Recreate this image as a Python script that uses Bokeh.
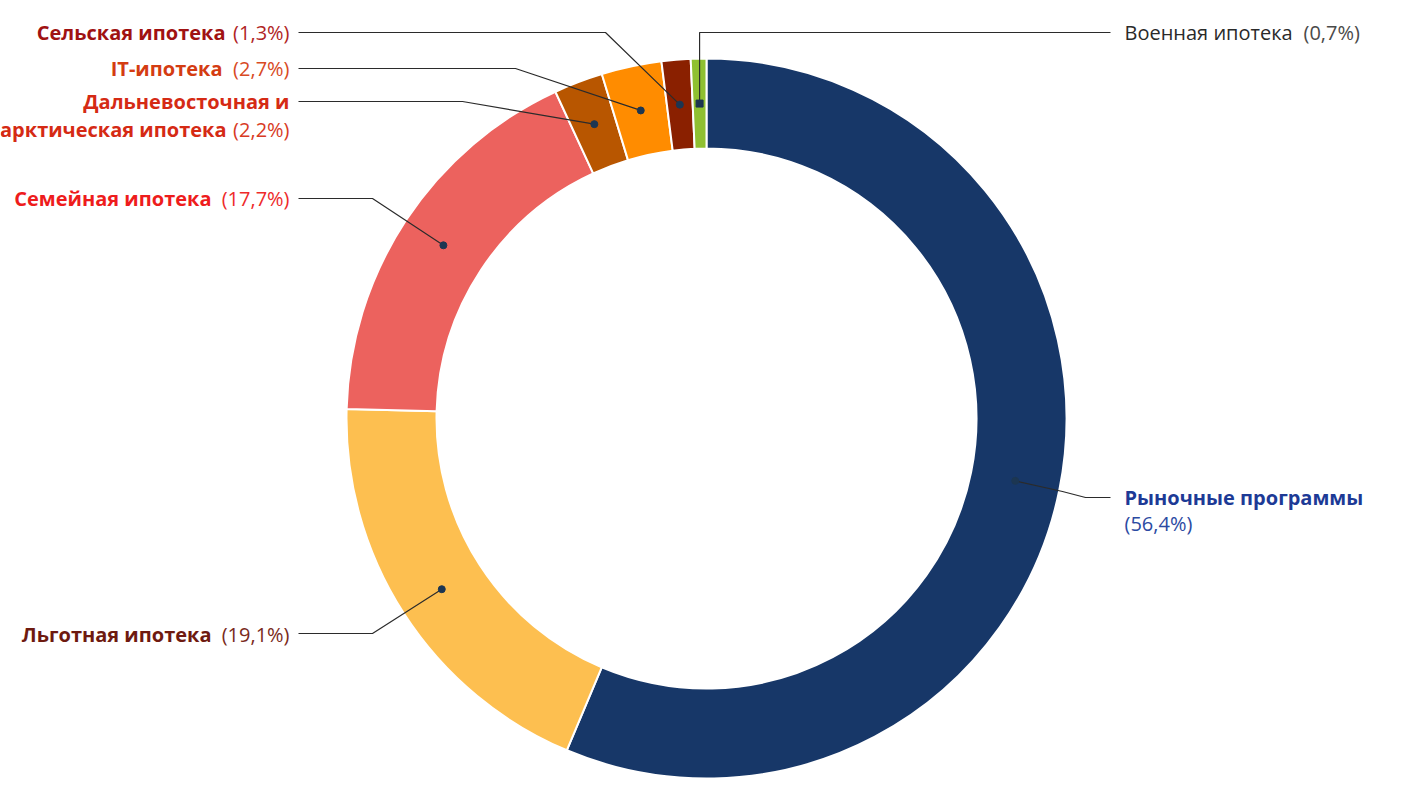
import math
from bokeh.plotting import figure
from bokeh.models import Range1d, ColumnDataSource
from bokeh.core.properties import value
from bokeh.embed import file_html
from bokeh.resources import INLINE

# ---- data (clockwise from 12 o'clock) ----
categories = ["Рыночные программы", "Льготная ипотека", "Семейная ипотека",
              "Дальневосточная и арктическая ипотека", "IT-ипотека",
              "Сельская ипотека", "Военная ипотека"]
shares = [56.4, 19.1, 17.7, 2.2, 2.7, 1.3, 0.7]
slice_colors = ["#173768", "#fdbf50", "#ec625e", "#b85600", "#ff8c00", "#8a2000", "#8fc031"]
name_colors = ["#1d3a96", "#6e1a10", "#ee1c1c", "#d52a14", "#d43c12", "#a01212", "#2a2a2a"]
pct_colors = ["#2b4aa2", "#7a2a20", "#ee2a2a", "#d83a24", "#d84a24", "#b02424", "#4a4a4a"]

W, H = 1402, 804
CX, CY = 706, 418          # screen coords of centre
R_OUT, R_IN, R_DOT = 360, 270, 315

def sy(y):
    return H - y

p = figure(width=W, height=H, output_backend="svg", toolbar_location=None,
           x_range=Range1d(0, W), y_range=Range1d(0, H), min_border=0)
p.axis.visible = False
p.grid.visible = False
p.outline_line_color = None
p.background_fill_color = "white"

total = sum(shares)
starts, ends, mids = [], [], []
cum = 0.0
for v in shares:
    t0 = cum / total * 2 * math.pi
    cum += v
    t1 = cum / total * 2 * math.pi
    starts.append(math.pi / 2 - t1)
    ends.append(math.pi / 2 - t0)
    mids.append((t0 + t1) / 2)

src = ColumnDataSource(dict(start=starts, end=ends, color=slice_colors))
p.annular_wedge(x=CX, y=sy(CY), inner_radius=R_IN, outer_radius=R_OUT,
                start_angle="start", end_angle="end", direction="anticlock",
                fill_color="color", line_color="white", line_width=2, source=src)

dot_x = [CX + R_DOT * math.sin(t) for t in mids]
dot_y = [sy(CY - R_DOT * math.cos(t)) for t in mids]

# leader-line layout (screen coords), per category
leaders = [
    [(1110, 497), (1085, 497), (1062, 491)],
    [(298, 633), (372, 633)],
    [(298, 198), (372, 198)],
    [(298, 101), (462, 101)],
    [(298, 68), (515, 68)],
    [(298, 32), (605, 32)],
    [(1110, 32), (None, 32)],
]
xs, ys = [], []
for i, pts in enumerate(leaders):
    lx = [dot_x[i] if x is None else x for x, _ in pts] + [dot_x[i]]
    ly = [sy(y) for _, y in pts] + [dot_y[i]]
    xs.append(lx)
    ys.append(ly)
p.multi_line(xs=xs, ys=ys, line_color="#2b2b2b", line_width=1.2)

p.scatter(x=dot_x[:6], y=dot_y[:6], size=7, color="#1c3652")
p.scatter(x=[dot_x[6]], y=[dot_y[6]], size=7, marker="square", color="#1c3652")

FONT = value("Open Sans")
FS = "20px"

def pct(v):
    return ("(%.1f%%)" % v).replace(".", ",")

# left labels: percent right-aligned at x=289, names right-aligned before it
left = {1: (634, 211), 2: (198, 211), 4: (68, 222), 5: (32, 225)}
for i, (y, nx) in left.items():
    p.text(x=[289], y=[sy(y)], text=[pct(shares[i])], text_align="right",
           text_baseline="middle", text_font=FONT, text_font_size=FS,
           text_color=pct_colors[i])
    p.text(x=[nx], y=[sy(y)], text=[categories[i]], text_align="right",
           text_baseline="middle", text_font=FONT, text_font_size=FS,
           text_font_style="bold", text_color=name_colors[i])

# two-line far-east label
p.text(x=[289], y=[sy(101)], text=["Дальневосточная и"], text_align="right",
       text_baseline="middle", text_font=FONT, text_font_size=FS,
       text_font_style="bold", text_color=name_colors[3])
p.text(x=[289], y=[sy(129)], text=[pct(shares[3])], text_align="right",
       text_baseline="middle", text_font=FONT, text_font_size=FS,
       text_color=pct_colors[3])
p.text(x=[226], y=[sy(129)], text=["арктическая ипотека"], text_align="right",
       text_baseline="middle", text_font=FONT, text_font_size=FS,
       text_font_style="bold", text_color=name_colors[3])

# right labels
p.text(x=[1124], y=[sy(497)], text=[categories[0]], text_align="left",
       text_baseline="middle", text_font=FONT, text_font_size=FS,
       text_font_style="bold", text_color=name_colors[0])
p.text(x=[1124], y=[sy(523)], text=[pct(shares[0])], text_align="left",
       text_baseline="middle", text_font=FONT, text_font_size=FS,
       text_color=pct_colors[0])
p.text(x=[1124], y=[sy(32)], text=[categories[6]], text_align="left",
       text_baseline="middle", text_font=FONT, text_font_size=FS,
       text_color=name_colors[6])
p.text(x=[1303], y=[sy(32)], text=[pct(shares[6])], text_align="left",
       text_baseline="middle", text_font=FONT, text_font_size=FS,
       text_color=pct_colors[6])

open("out.html", "w").write(file_html(p, INLINE))
